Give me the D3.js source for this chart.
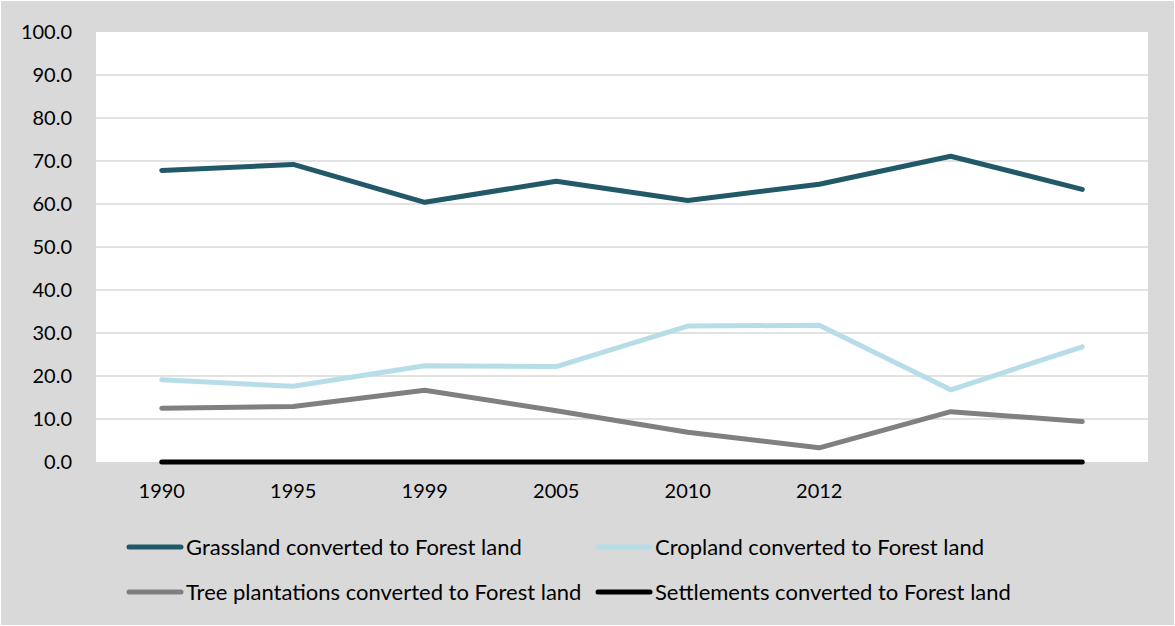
<!DOCTYPE html>
<html><head><meta charset="utf-8">
<script src="https://cdn.jsdelivr.net/npm/d3@7"></script>
<style>body{margin:0;background:#fff;}svg{display:block;}text{font-family:Lato,"Open Sans",sans-serif;fill:#000;}</style>
</head><body>
<script>
const categories = ["1990","1995","1999","2005","2010","2012","",""];
const catKeys = ["c0","c1","c2","c3","c4","c5","c6","c7"];
const seriesNames = ["Grassland converted to Forest land","Cropland converted to Forest land","Tree plantations converted to Forest land","Settlements converted to Forest land"];
const grassland = [67.8,69.2,60.4,65.3,60.8,64.6,71.1,63.4];
const cropland = [19.1,17.6,22.4,22.2,31.6,31.8,16.8,26.8];
const treePlantations = [12.5,12.9,16.7,11.9,6.9,3.3,11.7,9.4];
const settlements = [0,0,0,0,0,0,0,0];
const yTicks = [0,10,20,30,40,50,60,70,80,90,100];
const colors = ["#215968","#b7dee8","#808080","#000000"];
const seriesValues = [grassland,cropland,treePlantations,settlements];

const W=1175,H=626;
const svg=d3.select("body").append("svg").attr("width",W).attr("height",H);
svg.append("rect").attr("x",1).attr("y",1).attr("width",W-2).attr("height",H-2).attr("fill","#d9d9d9");
const plot={l:96,r:1148,t:32,b:462};
svg.append("rect").attr("x",plot.l).attr("y",plot.t).attr("width",plot.r-plot.l).attr("height",plot.b-plot.t).attr("fill","#fff");

const x=d3.scaleBand().domain(catKeys).range([plot.l,plot.r]);
const y=d3.scaleLinear().domain([0,100]).range([plot.b,plot.t]);

// gridlines
svg.append("g").selectAll("line").data(yTicks.filter(t=>t>0&&t<100)).join("line")
  .attr("x1",plot.l).attr("x2",plot.r).attr("y1",d=>y(d)).attr("y2",d=>y(d))
  .attr("stroke","#d9d9d9").attr("stroke-width",1.5);

// y axis
const yAxis=svg.append("g").attr("transform",`translate(${plot.l},0)`)
  .call(d3.axisLeft(y).tickValues(yTicks).tickFormat(d3.format(".1f")).tickSize(0).tickPadding(24));
yAxis.select(".domain").remove();
yAxis.selectAll("text").style("font-size","20px").style("font-family","Lato, sans-serif").attr("fill","#000");

// x axis
const xAxis=svg.append("g").attr("transform",`translate(0,${plot.b})`)
  .call(d3.axisBottom(x).tickFormat((d,i)=>categories[i]).tickSize(0).tickPadding(22));
xAxis.select(".domain").remove();
xAxis.selectAll("text").style("font-size","20px").style("font-family","Lato, sans-serif").attr("fill","#000");

const line=d3.line().x((d,i)=>x(catKeys[i])+x.bandwidth()/2).y(d=>y(d));
[0,1,2,3].forEach(s=>{
  svg.append("path").datum(seriesValues[s]).attr("d",line)
    .attr("fill","none").attr("stroke",colors[s]).attr("stroke-width",5)
    .attr("stroke-linecap","round").attr("stroke-linejoin","round");
});

// legend
const legPos=[{x:129,y:547},{x:598,y:547},{x:129,y:592},{x:598,y:592}];
seriesNames.forEach((n,i)=>{
  const g=svg.append("g").attr("transform",`translate(${legPos[i].x},${legPos[i].y})`);
  g.append("line").attr("x1",0).attr("x2",52).attr("y1",0).attr("y2",0)
    .attr("stroke",colors[i]).attr("stroke-width",5).attr("stroke-linecap","round");
  g.append("text").attr("x",57).attr("y",0).attr("dy","0.35em").style("font-size","22px").text(n);
});
</script>
</body></html>
